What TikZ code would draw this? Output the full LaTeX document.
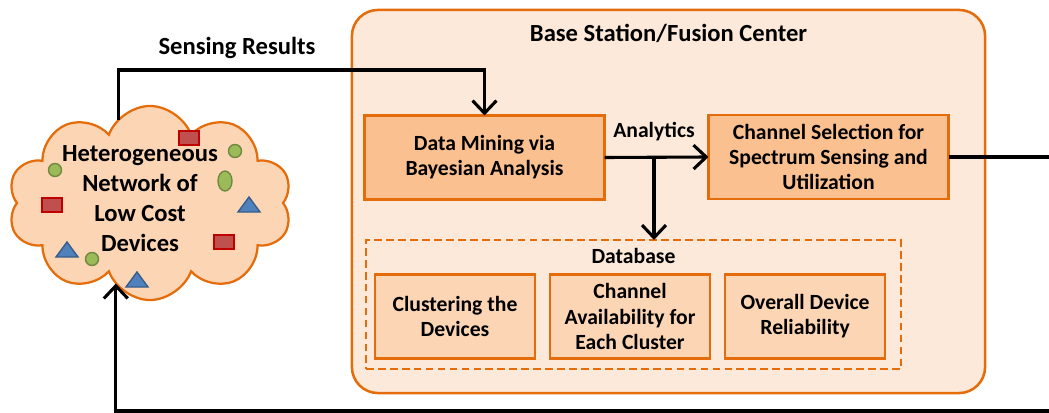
\documentclass[tikz,border=0pt]{standalone}
\usepackage{fontspec}
\setmainfont{Carlito}
\usepackage{tikz}
\usetikzlibrary{positioning,shapes.symbols,arrows.meta}
\definecolor{edgeorange}{HTML}{E46C0A}
\definecolor{stationfill}{HTML}{FDE9D9}
\definecolor{blockfill}{HTML}{FAC090}
\definecolor{dbfill}{HTML}{FCD5B5}
\definecolor{devred}{HTML}{C0504D}
\definecolor{devredline}{HTML}{C00000}
\definecolor{devgreen}{HTML}{9BBB59}
\definecolor{devgreenline}{HTML}{71893F}
\definecolor{devblue}{HTML}{4F81BD}
\definecolor{devblueline}{HTML}{385D8A}

\begin{document}
\begin{tikzpicture}[x=0.025cm,y=-0.025cm,outer sep=0pt,inner sep=2pt,node distance=0.375cm]
        \tikzset{block/.style={align=center,shape=rectangle,draw=edgeorange,line width=1.6pt,fill=blockfill,minimum width=6cm,minimum height=2.1cm,font=\bfseries\fontsize{15.4}{17.8}\selectfont}}
        \tikzset{dbfield/.style={block,fill=dbfill,minimum width=4cm,minimum height=2.1cm}}
        \tikzset{lbl/.style={font=\bfseries\fontsize{15.4}{17.8}\selectfont}}
        \tikzset{biglbl/.style={align=center,font=\bfseries\fontsize{17.5}{21.3}\selectfont}}
        \tikzset{flow/.style={line width=2.2pt,-{Straight Barb[length=9pt,width=17pt,line width=2.2pt]}}}

        \useasboundingbox (0,0) rectangle (1049,413);

        % base station
        \node [draw=edgeorange,line width=1.8pt,fill=stationfill,rounded corners=0.65cm,minimum width=15.825cm,minimum height=9.575cm] (station) at (668.5,201.5) {};
        \node [biglbl,below=0.29cm of station.north] (stationtitle) {Base Station/Fusion Center};

        \node [block] (mining) at (484.5,157.5) {Data Mining via\\Bayesian Analysis};
        \node [block] (selection) at (828.5,157) {Channel Selection for\\Spectrum Sensing and\\Utilization};
        \node [lbl] (analytics) at (654,132) {Analytics};

        % database
        \node [draw=edgeorange,dash pattern=on 5.5pt off 3pt,line width=1.8pt,minimum width=13.375cm,minimum height=3.225cm] (database) at (633.5,304.5) {};
        \node [lbl,below=0.15cm of database.north] (dblabel) {Database};
        \node [dbfield] (clustering) at (455,316.5) {Clustering the\\Devices};
        \node [dbfield,right=of clustering] (availability) {Channel\\Availability for\\Each Cluster};
        \node [dbfield,right=of availability] (reliability) {Overall Device\\Reliability};

        % devices
        \node [cloud,cloud puffs=10,cloud puff arc=140,draw=edgeorange,fill=dbfill,line width=1.6pt,aspect=1.46,minimum width=7.1cm,minimum height=4.85cm] (network) at (150,203) {};
        \node [biglbl] (networktext) at (140,199) {Heterogeneous\\Network of\\Low Cost\\Devices};
        \foreach \x/\y in {189/138, 52/205, 224/242}
            \draw [fill=devred,draw=devredline,line width=1pt] (\x-10,\y-7) rectangle (\x+10,\y+7);
        \foreach \x/\y in {235/151, 55/170, 92/259}
            \draw [fill=devgreen,draw=devgreenline,line width=1pt] (\x,\y) circle (6.5);
        \draw [fill=devgreen,draw=devgreenline,line width=1pt] (225,181) ellipse (7 and 10);
        \foreach \x/\y in {249/205, 67/250, 137/280}
            \draw [fill=devblue,draw=devblueline,line width=1pt] (\x,\y-8) -- (\x+11,\y+7) -- (\x-11,\y+7) -- cycle;

        % connectors
        \node [biglbl] (sensing) at (237,48) {Sensing Results};
        \coordinate (srtop) at (116,70);
        \coordinate (split) at (654,157.5);
        \coordinate (loop) at (1053,411);
        \draw [flow] (network.111) -- (network.111 |- srtop) -| (mining.north);
        \draw [flow] (mining.east) -- (selection.west);
        \draw [flow] (split) -- (split |- database.north);
        \draw [flow] (selection.east) -- (selection.east -| loop) -- (loop) -| (network.247);
\end{tikzpicture}
\end{document}
